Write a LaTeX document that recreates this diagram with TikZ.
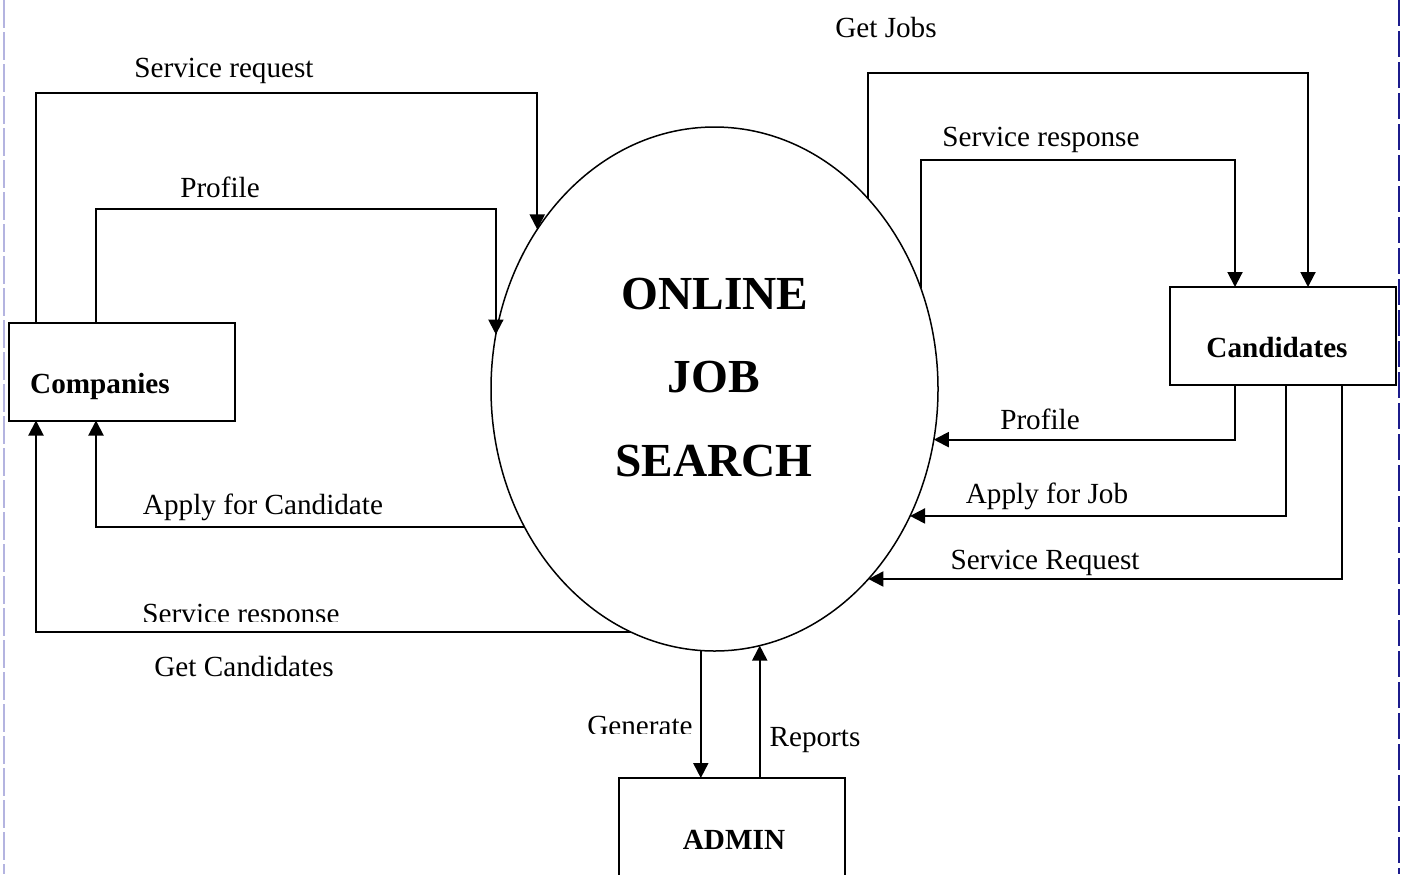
\documentclass[tikz,border=0pt]{standalone}
\usepackage{fontspec}
\setmainfont{Liberation Serif}
\usetikzlibrary{arrows.meta,shapes.geometric}

\definecolor{edgeleft}{HTML}{B4B4E0}
\definecolor{edgeright}{HTML}{1C1C8C}

\tikzset{
  entity/.style={draw, line width=1pt, minimum width=113pt, minimum height=49pt, inner sep=0pt, outer sep=0pt},
  process/.style={draw, ellipse, line width=0.75pt, fill=white, minimum width=223.5pt, minimum height=262pt, inner sep=0pt, outer sep=0pt},
  flow/.style={line width=1pt, -{Triangle[length=7.5pt,width=7.5pt]}},
  lbl/.style={anchor=base, inner sep=0pt, font=\fontsize{14.6}{17}\selectfont},
  boxlbl/.style={lbl, font=\fontsize{14.6}{17}\selectfont\bfseries},
  titlelbl/.style={lbl, font=\fontsize{23.7}{28}\selectfont\bfseries},
}

\begin{document}
\begin{tikzpicture}[x=0.5pt,y=-0.5pt]
            \useasboundingbox (0,0) rectangle (1402,874);
            \clip (0,0) rectangle (1402,874);

            % Drawing page edges
            \draw [color=edgeleft, line width=0.6pt, dash pattern=on 14pt off 2pt] (4,0) -- (4,874);%
            \draw [color=edgeright, line width=1pt, dash pattern=on 13pt off 2.5pt] (1399,0) -- (1399,874);%

            % Drawing process ONLINE JOB SEARCH
            \node [process] (search) at (714.5,389) {};%
            \node [titlelbl] (ttonline) at (715,309) {ONLINE};%
            \node [titlelbl] (ttjob) at (714,392) {JOB};%
            \node [titlelbl] (ttsearch) at (714,476) {SEARCH};%

            % Drawing entity Companies
            \node [entity] (companies) at (122,371.5) {};%
            \node [boxlbl] (companiestxt) at (100,393.5) {Companies};%

            % Drawing entity Candidates
            \node [entity] (candidates) at (1283,336) {};%
            \node [boxlbl] (candidatestxt) at (1277,357.5) {Candidates};%

            % Drawing entity ADMIN
            \node [entity, minimum height=64pt] (admin) at (731.5,842) {};%
            \node [boxlbl] (admintxt) at (734,849.5) {ADMIN};%

            % Bends of the flows
            \coordinate (sreqbend) at (36,93);%
            \coordinate (cprofbend) at (96,209);%
            \coordinate (acandx) at (96,528);%
            \coordinate (crespx) at (36,633);%
            \coordinate (jobsbend) at (1308,73);%
            \coordinate (drespbend) at (1235,160);%
            \coordinate (dprofx) at (1235,437);%
            \coordinate (applyx) at (1286,515);%
            \coordinate (dsreqx) at (1342,576);%

            % Drawing flows Companies -- search
            \draw [flow] (companies.north -| sreqbend) -- (sreqbend) -| (search.138.5);%
            \draw [flow] (companies.north -| cprofbend) -- (cprofbend) -| (search.166.1);%
            \draw [flow] (search.216.3) -| (companies.south -| acandx);%
            \draw [flow] (search.251.55) -| (companies.south -| crespx);%

            % Drawing flows search -- Candidates
            \draw [flow] (search.51.1) |- (jobsbend) -- (candidates.north -| jobsbend);%
            \draw [flow] (search.26.6) |- (drespbend) -- (candidates.north -| drespbend);%
            \draw [flow] (candidates.south -| dprofx) |- (search.347.7);%
            \draw [flow] (candidates.south -| applyx) |- (search.327.3);%
            \draw [flow] (candidates.south -| dsreqx) |- (search.309.9);%

            % Drawing flows search -- ADMIN
            \draw [flow] (search.267.3) -- (admin.north -| search.267.3);%
            \draw [flow] (admin.north -| search.280.5) -- (search.280.5);%

            % Labels of the flows
            \node [lbl] (lsreq) at (224,77.5) {Service request};%
            \node [lbl] (lcprof) at (220,197.5) {Profile};%
            \node [lbl] (lacand) at (263,514.5) {Apply for Candidate};%
            \begin{scope}
              \clip (100,590) rectangle (400,621);
              \node [lbl] (lcresp) at (241,623) {Service response};%
            \end{scope}
            \node [lbl] (lgetcand) at (244,676.5) {Get Candidates};%
            \begin{scope}
              \clip (560,700) rectangle (700,733);
              \node [lbl] (lgen) at (640,735.5) {Generate};%
            \end{scope}
            \node [lbl] (lreports) at (815,746.5) {Reports};%
            \node [lbl] (lgetjobs) at (886,37.5) {Get Jobs};%
            \node [lbl] (ldresp) at (1041,146.5) {Service response};%
            \node [lbl] (ldprof) at (1040,429.5) {Profile};%
            \node [lbl] (lapply) at (1047,503.5) {Apply for Job};%
            \node [lbl] (ldsreq) at (1045,569.5) {Service Request};%
        \end{tikzpicture}
\end{document}
